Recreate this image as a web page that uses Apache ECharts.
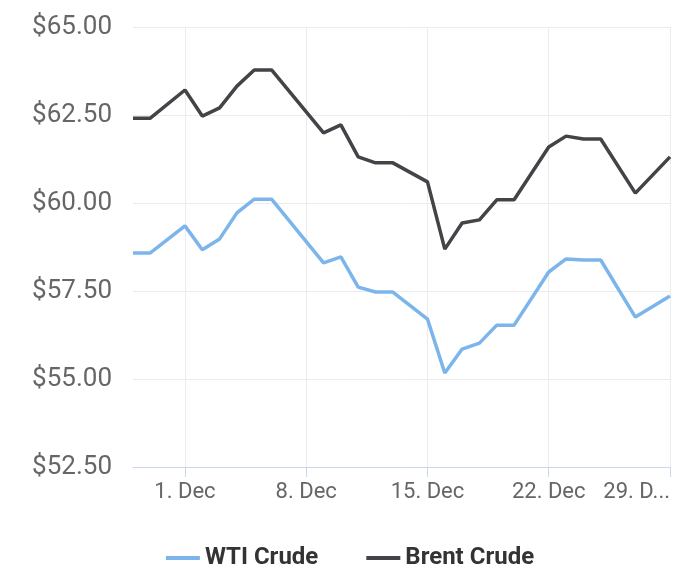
<!DOCTYPE html>
<html>
<head>
<meta charset="utf-8">
<script src="https://cdn.jsdelivr.net/npm/echarts@6/dist/echarts.min.js"></script>
<style>
html, body { margin: 0; padding: 0; background: #fff; }
#chart { width: 700px; height: 587px; }
</style>
</head>
<body>
<div id="chart"></div>
<script>
// 交易日
const dates = ['2019-11-28', '2019-11-29', '2019-12-01', '2019-12-02', '2019-12-03', '2019-12-04', '2019-12-05', '2019-12-06',
	'2019-12-09', '2019-12-10', '2019-12-11', '2019-12-12', '2019-12-13', '2019-12-15', '2019-12-16', '2019-12-17',
	'2019-12-18', '2019-12-19', '2019-12-20', '2019-12-22', '2019-12-23', '2019-12-24', '2019-12-25', '2019-12-27', '2019-12-29'];
const wti = [58.58, 58.58, 59.35, 58.67, 58.98, 59.72, 60.11, 60.11, 58.30, 58.47, 57.61, 57.47, 57.47, 56.70, 55.17,
	55.85, 56.02, 56.53, 56.53, 58.04, 58.41, 58.38, 58.38, 56.76, 57.36];
const brent = [62.41, 62.41, 63.21, 62.47, 62.70, 63.32, 63.78, 63.78, 61.99, 62.22, 61.31, 61.14, 61.14, 60.60, 58.69,
	59.43, 59.52, 60.09, 60.09, 61.59, 61.90, 61.82, 61.82, 60.28, 61.31];
const weekTicks = ['2019-12-01', '2019-12-08', '2019-12-15', '2019-12-22', '2019-12-29'];

// 以 11-28 为第 0 天
const DAY = 86400000;
const start = new Date('2019-11-28T00:00:00Z').getTime();
const dayOf = d => Math.round((new Date(d + 'T00:00:00Z').getTime() - start) / DAY);
const tickValues = weekTicks.map(dayOf);
const lastTick = tickValues[tickValues.length - 1];

const chart = echarts.init(document.getElementById('chart'));
chart.setOption({
	animation: false,
	legend: {
		bottom: 12,
		left: 'center',
		itemWidth: 34,
		itemHeight: 4,
		itemGap: 48,
		icon: 'rect',
		textStyle: { color: '#333', fontSize: 24, fontWeight: 'bold', fontFamily: 'Roboto' }
	},
	grid: { left: 133, right: 30, top: 27, bottom: 120, outerBoundsMode: 'none', containLabel: false },
	xAxis: {
		type: 'value',
		min: 0,
		max: dayOf('2019-12-29'),
		axisLine: { lineStyle: { color: '#ccd6eb', width: 1 } },
		axisTick: { show: true, length: 10, customValues: tickValues, lineStyle: { color: '#ccd6eb' } },
		splitLine: { show: true, lineStyle: { color: '#ececec', width: 1 } },
		axisLabel: {
			customValues: tickValues,
			alignMaxLabel: 'right',
			color: '#666', fontSize: 22, fontFamily: 'Roboto', margin: 14,
			formatter: v => {
				const s = new Date(start + v * DAY).getUTCDate() + '. Dec';
				return v === lastTick ? s.slice(0, 5) + '...' : s;
			}
		}
	},
	yAxis: {
		type: 'value',
		min: 52.5, max: 65, interval: 2.5,
		axisLine: { show: false },
		axisTick: { show: false },
		splitLine: { lineStyle: { color: '#ececec' } },
		axisLabel: { color: '#666', fontSize: 26, fontFamily: 'Roboto', margin: 21, formatter: v => '$' + v.toFixed(2) }
	},
	series: [
		{ name: 'WTI Crude', type: 'line', showSymbol: false, color: '#7cb5ec', lineStyle: { width: 3.5 },
			data: dates.map((d, i) => [dayOf(d), wti[i]]) },
		{ name: 'Brent Crude', type: 'line', showSymbol: false, color: '#434348', lineStyle: { width: 3.5 },
			data: dates.map((d, i) => [dayOf(d), brent[i]]) }
	]
});
</script>
</body>
</html>
